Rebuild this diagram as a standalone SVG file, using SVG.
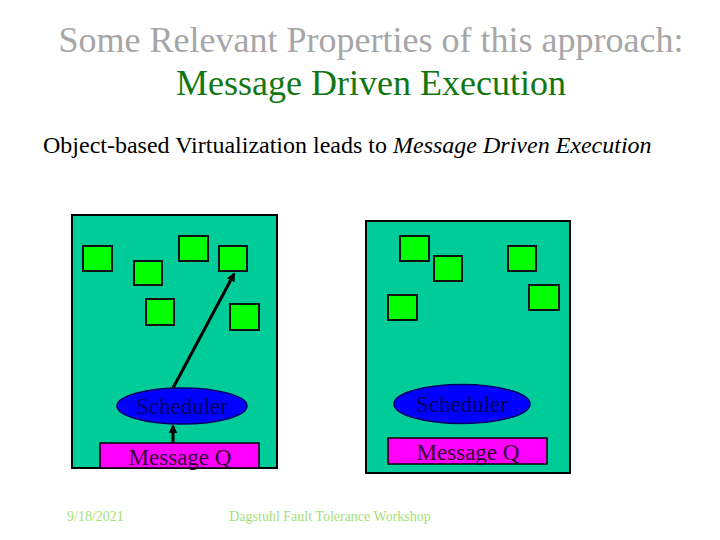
<svg xmlns="http://www.w3.org/2000/svg" width="720" height="540" viewBox="0 0 720 540">
<defs>
<style>
text{font-family:"Liberation Serif","Times New Roman",serif}
.title{font-size:36px;text-anchor:middle}
.pe{fill:#00cc99;stroke:#000;stroke-width:2}
.obj{fill:#00ff00;stroke:#111;stroke-width:2}
.sched{fill:#0000ff;stroke:#000066;stroke-width:1.5}
.mq{fill:#ff00ff;stroke:#000;stroke-width:1.5}
.lbl{font-size:23px;text-anchor:middle}
.foot{font-size:14px;fill:#a6e07a}
.conn{stroke:#000;stroke-width:3;fill:none}
</style>
<marker id="ah" viewBox="0 0 10 10" refX="8" refY="5" markerWidth="3" markerHeight="3" orient="auto">
<path d="M0,0 L10,5 L0,10 z" fill="#000"/>
</marker>
</defs>
<rect width="720" height="540" fill="#fff"/>
<text class="title" x="371" y="52" fill="#a6a6a6">Some Relevant Properties of this approach:</text>
<text class="title" x="371" y="95" fill="#117711">Message Driven Execution</text>
<text x="43" y="153" font-size="24" fill="#000">Object-based Virtualization leads to <tspan font-style="italic">Message Driven Execution</tspan></text>

<g id="pe1">
<rect class="pe" x="72" y="215" width="205" height="253"/>
</g>
<g id="pe1-obj1"><rect class="obj" x="83" y="246" width="29" height="25"/></g>
<g id="pe1-obj2"><rect class="obj" x="134" y="261" width="28" height="24"/></g>
<g id="pe1-obj3"><rect class="obj" x="179" y="236" width="29" height="25"/></g>
<g id="pe1-obj4"><rect class="obj" x="219" y="246" width="28" height="25"/></g>
<g id="pe1-obj5"><rect class="obj" x="146" y="299" width="28" height="26"/></g>
<g id="pe1-obj6"><rect class="obj" x="230" y="304" width="29" height="26"/></g>
<g id="pe1-sched"><ellipse class="sched" cx="182" cy="406" rx="65" ry="18"/><text class="lbl" x="182" y="414" fill="#000066">Scheduler</text></g>
<g id="pe1-mq"><rect class="mq" x="100" y="443" width="159" height="25"/><text class="lbl" x="180" y="465" fill="#330033">Message Q</text></g>

<g id="pe2">
<rect class="pe" x="366" y="221" width="204" height="252"/>
</g>
<g id="pe2-obj1"><rect class="obj" x="400" y="236" width="29" height="25"/></g>
<g id="pe2-obj2"><rect class="obj" x="434" y="256" width="28" height="25"/></g>
<g id="pe2-obj3"><rect class="obj" x="508" y="246" width="28" height="25"/></g>
<g id="pe2-obj4"><rect class="obj" x="529" y="285" width="30" height="25"/></g>
<g id="pe2-obj5"><rect class="obj" x="388" y="295" width="29" height="25"/></g>
<g id="pe2-sched"><ellipse class="sched" cx="462" cy="404" rx="68" ry="19.5"/><text class="lbl" x="462" y="412" fill="#000066">Scheduler</text></g>
<g id="pe2-mq"><rect class="mq" x="388" y="438" width="159" height="26"/><text class="lbl" x="468" y="460" fill="#330033">Message Q</text></g>

<g id="connectors">
<line class="conn" x1="173" y1="388" x2="234" y2="274" marker-end="url(#ah)"/>
<line class="conn" x1="173" y1="443" x2="173" y2="426" marker-end="url(#ah)"/>
</g>

<text class="foot" x="67" y="521">9/18/2021</text>
<text class="foot" x="330" y="521" text-anchor="middle">Dagstuhl Fault Tolerance Workshop</text>
</svg>
